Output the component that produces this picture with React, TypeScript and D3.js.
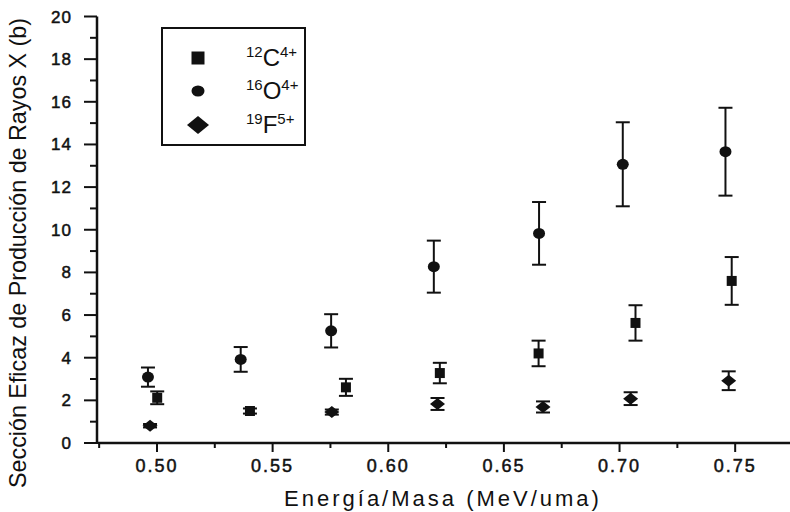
import React, { useRef, useEffect } from "react";
import * as d3 from "d3";

// 12C4+ (squares)
const xC = [0.5001, 0.5402, 0.5817, 0.6223, 0.665, 0.7069, 0.7485];
const yC = [2.12, 1.5, 2.61, 3.28, 4.2, 5.63, 7.6];
const eC = [0.3, 0.12, 0.4, 0.48, 0.6, 0.83, 1.12];

// 16O4+ (circles)
const xO = [0.4961, 0.5362, 0.5753, 0.6197, 0.6652, 0.7014, 0.7458];
const yO = [3.09, 3.92, 5.26, 8.27, 9.83, 13.07, 13.66];
const eO = [0.45, 0.58, 0.78, 1.22, 1.47, 1.97, 2.06];

// 19F5+ (diamonds)
const xF = [0.497, 0.5756, 0.6213, 0.6669, 0.7048, 0.7472];
const yF = [0.81, 1.45, 1.83, 1.69, 2.08, 2.92];
const eF = [0.08, 0.12, 0.28, 0.26, 0.3, 0.44];

const xTicks = [0.5, 0.55, 0.6, 0.65, 0.7, 0.75];
const xMinor = [0.475, 0.525, 0.575, 0.625, 0.675, 0.725, 0.775];
const yTicks = [0, 2, 4, 6, 8, 10, 12, 14, 16, 18, 20];

const legendItems = [
  { mass: "12", el: "C", charge: "4+", shape: "square" },
  { mass: "16", el: "O", charge: "4+", shape: "circle" },
  { mass: "19", el: "F", charge: "5+", shape: "diamond" },
];

const FONT = "'Liberation Sans', Arial, Helvetica, sans-serif";

const markerPath = (shape, big) => {
  if (shape === "square") {
    const s = big ? 6.5 : 5;
    return `M${-s},${-s}H${s}V${s}H${-s}Z`;
  }
  if (shape === "diamond") {
    const w = big ? 11 : 7.5, h = big ? 9 : 6;
    return `M${-w},0L0,${-h}L${w},0L0,${h}Z`;
  }
  const rx = big ? 6.5 : 6, ry = big ? 5.5 : 5.5;
  return `M${-rx},0A${rx},${ry} 0 1,0 ${rx},0A${rx},${ry} 0 1,0 ${-rx},0Z`;
};

const App = () => {
  const svgRef = useRef();

  useEffect(() => {
    const width = 790;
    const svg = d3.select(svgRef.current);
    svg.selectAll("*").remove();

    const x = d3.scaleLinear().domain([0.4745, 0.775]).range([98, 793]);
    const y = d3.scaleLinear().domain([0, 20]).range([443, 16.5]);

    const ink = "#111";

    // axes lines
    svg.append("line")
      .attr("x1", x.range()[0]).attr("x2", width)
      .attr("y1", y(0)).attr("y2", y(0))
      .attr("stroke", ink).attr("stroke-width", 2.5);
    svg.append("line")
      .attr("x1", 97).attr("x2", 97)
      .attr("y1", y(20)).attr("y2", y(0) + 1)
      .attr("stroke", ink).attr("stroke-width", 2.5);

    // x ticks
    svg.selectAll(".xt").data(xTicks).enter().append("line")
      .attr("x1", d => x(d)).attr("x2", d => x(d))
      .attr("y1", y(0)).attr("y2", y(0) + 9)
      .attr("stroke", ink).attr("stroke-width", 2);
    svg.selectAll(".xm").data(xMinor).enter().append("line")
      .attr("x1", d => x(d)).attr("x2", d => x(d))
      .attr("y1", y(0)).attr("y2", y(0) + 5)
      .attr("stroke", ink).attr("stroke-width", 2);
    svg.selectAll(".xl").data(xTicks).enter().append("text")
      .attr("x", d => x(d)).attr("y", 472)
      .attr("text-anchor", "middle")
      .attr("font-family", FONT).attr("font-size", 18)
      .attr("letter-spacing", 2)
      .attr("fill", ink).attr("stroke", ink).attr("stroke-width", 0.5)
      .text(d => d.toFixed(2));

    // y ticks
    svg.selectAll(".yt").data(yTicks).enter().append("line")
      .attr("x1", 84).attr("x2", 97)
      .attr("y1", d => y(d)).attr("y2", d => y(d))
      .attr("stroke", ink).attr("stroke-width", 2);
    svg.selectAll(".ym").data(d3.range(1, 20, 2)).enter().append("line")
      .attr("x1", 90).attr("x2", 97)
      .attr("y1", d => y(d)).attr("y2", d => y(d))
      .attr("stroke", ink).attr("stroke-width", 2);
    svg.selectAll(".yl").data(yTicks).enter().append("text")
      .attr("x", 72).attr("y", d => y(d) + 6)
      .attr("text-anchor", "end")
      .attr("font-family", FONT).attr("font-size", 17)
      .attr("letter-spacing", 1)
      .attr("fill", ink).attr("stroke", ink).attr("stroke-width", 0.5)
      .text(d => d);

    // axis titles
    svg.append("text")
      .attr("x", 443).attr("y", 506)
      .attr("text-anchor", "middle")
      .attr("font-family", FONT).attr("font-size", 22)
      .attr("letter-spacing", 3)
      .attr("fill", ink)
      .text("Energía/Masa (MeV/uma)");
    svg.append("text")
      .attr("transform", "translate(26,253) rotate(-90)")
      .attr("text-anchor", "middle")
      .attr("font-family", FONT).attr("font-size", 24)
      .attr("textLength", 470).attr("lengthAdjust", "spacingAndGlyphs")
      .attr("fill", ink)
      .text("Sección Eficaz de Producción de Rayos X (b)");

    // data with error bars
    const series = [
      { xs: xC, ys: yC, es: eC, shape: "square" },
      { xs: xO, ys: yO, es: eO, shape: "circle" },
      { xs: xF, ys: yF, es: eF, shape: "diamond" },
    ];
    series.forEach(s => {
      const pts = s.xs.map((xv, i) => ({ x: xv, y: s.ys[i], e: s.es[i] }));
      const g = svg.append("g");
      const bars = g.selectAll("g").data(pts).enter().append("g");
      bars.append("line")
        .attr("x1", d => x(d.x)).attr("x2", d => x(d.x))
        .attr("y1", d => y(d.y + d.e)).attr("y2", d => y(d.y - d.e))
        .attr("stroke", ink).attr("stroke-width", 2);
      bars.append("line")
        .attr("x1", d => x(d.x) - 7).attr("x2", d => x(d.x) + 7)
        .attr("y1", d => y(d.y + d.e)).attr("y2", d => y(d.y + d.e))
        .attr("stroke", ink).attr("stroke-width", 2);
      bars.append("line")
        .attr("x1", d => x(d.x) - 7).attr("x2", d => x(d.x) + 7)
        .attr("y1", d => y(d.y - d.e)).attr("y2", d => y(d.y - d.e))
        .attr("stroke", ink).attr("stroke-width", 2);
      bars.append("path")
        .attr("transform", d => `translate(${x(d.x)},${y(d.y)})`)
        .attr("d", markerPath(s.shape, false))
        .attr("fill", ink);
    });

    // legend
    const lg = svg.append("g");
    lg.append("rect")
      .attr("x", 162).attr("y", 28).attr("width", 143).attr("height", 117)
      .attr("fill", "none").attr("stroke", ink).attr("stroke-width", 2);
    const rows = [58, 91, 125];
    legendItems.forEach((it, i) => {
      lg.append("path")
        .attr("transform", `translate(198,${rows[i]})`)
        .attr("d", markerPath(it.shape, true))
        .attr("fill", ink);
      const t = lg.append("text")
        .attr("x", 246).attr("y", rows[i] + 8)
        .attr("font-family", FONT).attr("fill", ink);
      t.append("tspan").attr("font-size", 15).attr("dy", -9).text(it.mass);
      t.append("tspan").attr("font-size", 24).attr("dy", 9).text(it.el);
      t.append("tspan").attr("font-size", 15).attr("dy", -9).text(it.charge);
    });
  }, []);

  return (
    <svg ref={svgRef} width={790} height={512}
      style={{ position: "absolute", left: 0, top: 0, background: "#fff" }} />
  );
};

export default App;
